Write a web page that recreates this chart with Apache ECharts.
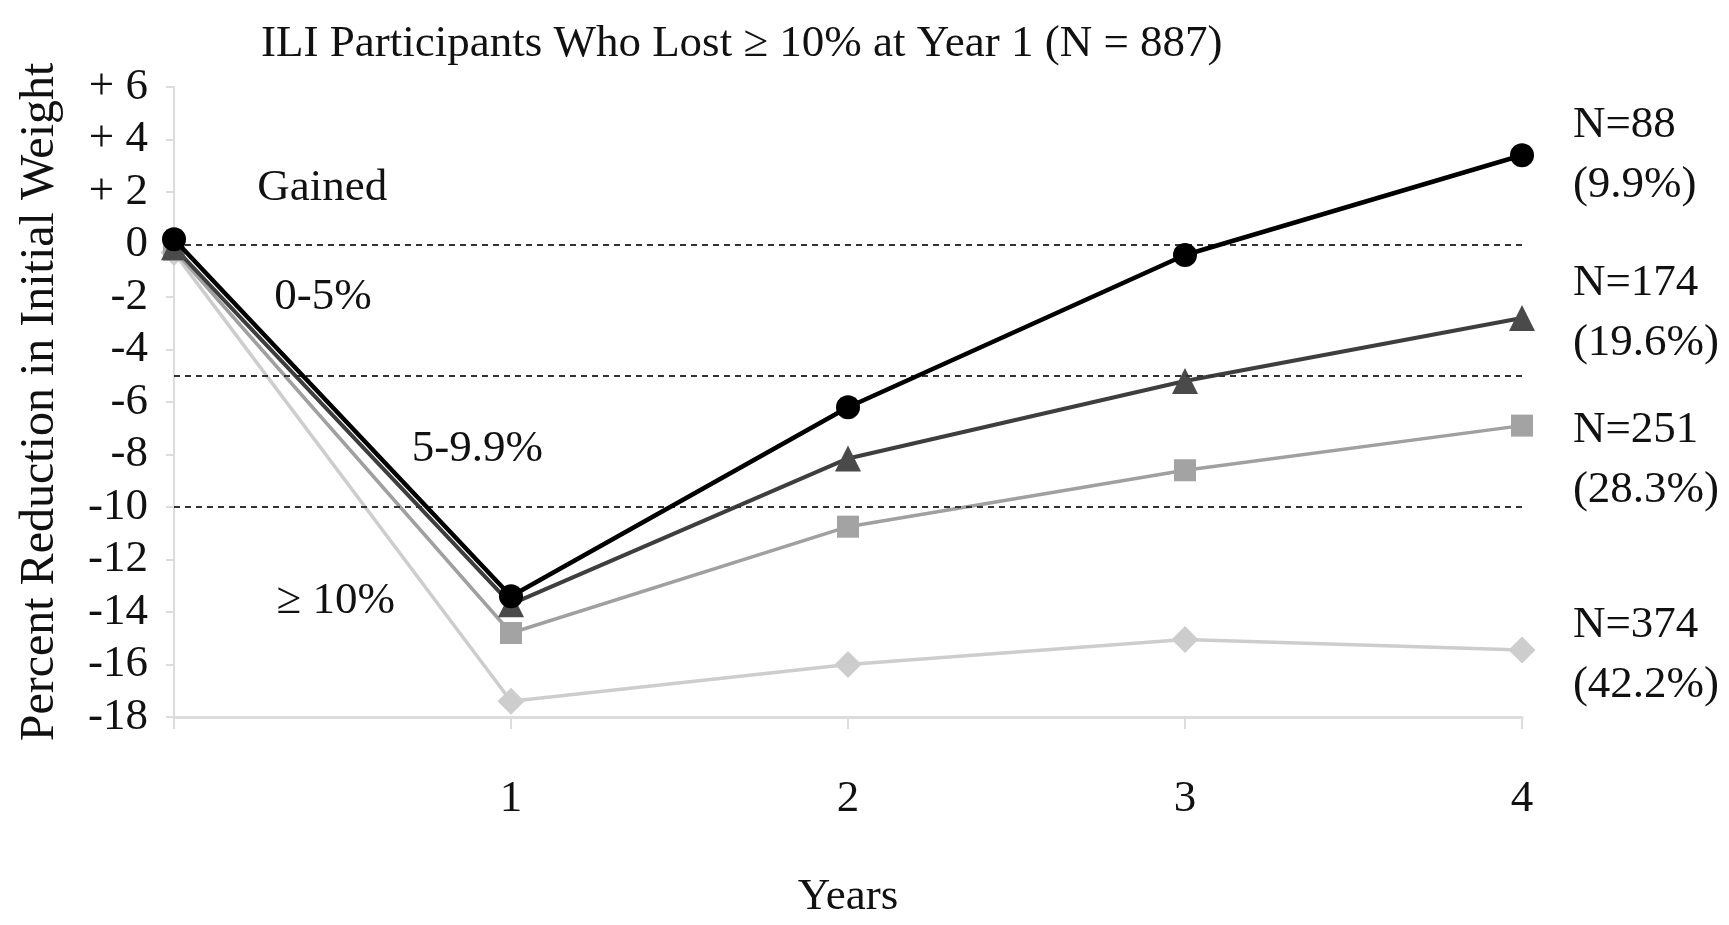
<!DOCTYPE html>
<html>
<head>
<meta charset="utf-8">
<script src="https://cdn.jsdelivr.net/npm/echarts@6/dist/echarts.min.js"></script>
<style>
html,body{margin:0;padding:0;background:#fff;}
#chart{width:1729px;height:925px;}
</style>
</head>
<body>
<div id="chart"></div>
<script>
// ---- data ----
const years = [0, 1, 2, 3, 4];
const xTickLabels = ['', '1', '2', '3', '4'];
const seriesNames = ['N=88 (9.9%)', 'N=174 (19.6%)', 'N=251 (28.3%)', 'N=374 (42.2%)'];
const gainedGroup = [0.2, -13.4, -6.2, -0.4, 3.4];      // circles
const loss0to5 = [-0.1, -13.7, -8.15, -5.2, -2.8];      // triangles
const loss5to10 = [-0.2, -14.8, -10.75, -8.6, -6.9];    // squares
const lossOver10 = [-0.3, -17.4, -16.0, -15.05, -15.45]; // diamonds
const thresholds = [0, -5, -10];
const zoneLabels = ['Gained', '0-5%', '5-9.9%', '\u2265 10%'];
const zoneLabelPos = [[0.44, 2.16], [0.442, -1.99], [0.9, -7.8], [0.48, -13.6]];
const groupLabels = ['N=88\n(9.9%)', 'N=174\n(19.6%)', 'N=251\n(28.3%)', 'N=374\n(42.2%)'];
const groupLabelPos = [[4.151, 3.42], [4.151, -2.63], [4.151, -8.2], [4.151, -15.63]];
const titleText = 'ILI Participants Who Lost \u2265 10% at Year 1 (N = 887)';

const FONT = '"Liberation Serif", "DejaVu Serif", "Times New Roman", serif';
const FS = 45;
const chart = echarts.init(document.getElementById('chart'));

function pairs(arr){ return years.map((x,i)=>[x, arr[i]]); }

const option = {
  animation: false,
  backgroundColor: '#ffffff',
  title: {
    text: titleText,
    left: 256, top: 17,
    textStyle: {fontFamily: FONT, fontWeight: 'normal', fontSize: FS, color: '#111'}
  },
  grid: {left: 174, right: 207, top: 87, bottom: 200, containLabel: false},
  xAxis: {
    type: 'value', min: 0, max: 4, interval: 1,
    name: 'Years', nameLocation: 'middle', nameGap: 158,
    nameTextStyle: {fontFamily: FONT, fontSize: FS, color: '#111'},
    axisLine: {show: true, onZero: false, lineStyle: {color: '#dcdcdc', width: 3}},
    axisTick: {show: true, length: 12, lineStyle: {color: '#dcdcdc', width: 2}},
    splitLine: {show: false},
    axisLabel: {
      margin: 60, fontFamily: FONT, fontSize: FS, color: '#111',
      formatter: function(v){ return xTickLabels[years.indexOf(v)] || ''; }
    }
  },
  yAxis: {
    type: 'value', min: -18, max: 6, interval: 2,
    name: 'Percent Reduction in Initial Weight', nameLocation: 'middle', nameGap: 110, nameRotate: 90,
    nameTextStyle: {fontFamily: FONT, fontSize: 48, color: '#111'},
    axisLine: {show: true, onZero: false, lineStyle: {color: '#dcdcdc', width: 2}},
    axisTick: {show: true, length: 8, lineStyle: {color: '#dcdcdc', width: 2}},
    splitLine: {show: false},
    axisLabel: {
      margin: 26, fontFamily: FONT, fontSize: FS, color: '#111',
      formatter: function(v){ return v > 0 ? '+ ' + v : String(v); }
    }
  },
  series: [
    {
      name: seriesNames[3], type: 'line', data: pairs(lossOver10),
      symbol: 'diamond', symbolSize: 27,
      lineStyle: {color: '#cdcdcd', width: 3.5},
      itemStyle: {color: '#cdcdcd'}, z: 2,
      markLine: {
        silent: true, symbol: 'none', label: {show: false},
        lineStyle: {color: '#333', type: [6, 5], width: 2},
        data: thresholds.map(t => [{coord: [0, t]}, {coord: [4, t]}])
      }
    },
    {
      name: seriesNames[2], type: 'line', data: pairs(loss5to10),
      symbol: 'rect', symbolSize: 22,
      lineStyle: {color: '#a0a0a0', width: 3.5},
      itemStyle: {color: '#a3a3a3'}, z: 3
    },
    {
      name: seriesNames[1], type: 'line', data: pairs(loss0to5),
      symbol: 'triangle', symbolSize: 26,
      lineStyle: {color: '#3e3e3e', width: 4},
      itemStyle: {color: '#4a4a4a'}, z: 4
    },
    {
      name: seriesNames[0], type: 'line', data: pairs(gainedGroup),
      symbol: 'circle', symbolSize: 24,
      lineStyle: {color: '#000', width: 4.5},
      itemStyle: {color: '#000'}, z: 5
    },
    {
      name: 'zones', type: 'scatter', clip: false, silent: true,
      symbolSize: 0, itemStyle: {opacity: 1},
      data: zoneLabels.map((t,i)=>({value: zoneLabelPos[i], name: t})),
      label: {show: true, position: 'inside', formatter: '{b}',
        fontFamily: FONT, fontSize: FS, color: '#111'}
    },
    {
      name: 'groups', type: 'scatter', clip: false, silent: true,
      symbolSize: 0, itemStyle: {opacity: 1},
      data: groupLabels.map((t,i)=>({value: groupLabelPos[i], name: t})),
      label: {show: true, position: 'inside', align: 'left', formatter: '{b}',
        fontFamily: FONT, fontSize: FS, lineHeight: 60, color: '#111'}
    }
  ]
};
chart.setOption(option);
</script>
</body>
</html>
